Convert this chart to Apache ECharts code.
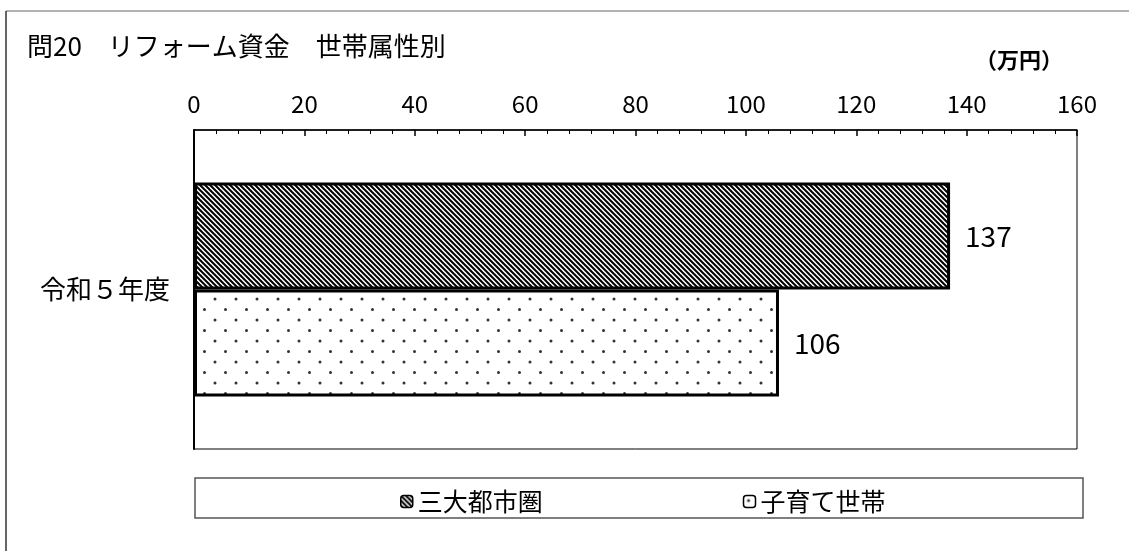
<!DOCTYPE html>
<html>
<head>
<meta charset="utf-8">
<script src="https://cdn.jsdelivr.net/npm/echarts@6/dist/echarts.min.js"></script>
<style>
  html, body { margin: 0; padding: 0; background: #fff; }
  #chart { width: 1129px; height: 551px; }
</style>
</head>
<body>
<div id="chart"></div>
<script>
var categories = ['令和５年度'];
var seriesNames = ['三大都市圏', '子育て世帯'];
var sandaiValues = [137];
var kosodateValues = [106];
var xTicks = [0, 20, 40, 60, 80, 100, 120, 140, 160];

var FONT = '"Noto Sans CJK JP", sans-serif';

// diagonal hatch pattern
function makeStripes() {
  var c = document.createElement('canvas');
  c.width = 10; c.height = 10;
  var ctx = c.getContext('2d');
  ctx.fillStyle = '#fff';
  ctx.fillRect(0, 0, 10, 10);
  ctx.strokeStyle = '#000';
  ctx.lineWidth = 2;
  for (var k = -20; k <= 20; k += 5) {
    ctx.beginPath();
    ctx.moveTo(k - 5, -5);
    ctx.lineTo(k + 15, 15);
    ctx.stroke();
  }
  return c;
}

// sparse dot pattern
function makeDots() {
  var c = document.createElement('canvas');
  c.width = 21; c.height = 21;
  var ctx = c.getContext('2d');
  ctx.fillStyle = '#fff';
  ctx.fillRect(0, 0, 21, 21);
  ctx.fillStyle = '#333';
  [[5, 5], [15.5, 15.5]].forEach(function (p) {
    ctx.beginPath();
    ctx.arc(p[0], p[1], 1.5, 0, Math.PI * 2);
    ctx.fill();
  });
  return c;
}

var chart = echarts.init(document.getElementById('chart'));

var option = {
  animation: false,
  backgroundColor: '#fff',
  textStyle: { fontFamily: FONT, color: '#000' },
  title: {
    text: '問20　リフォーム資金　世帯属性別',
    left: 22,
    top: 28,
    textStyle: { fontFamily: FONT, fontSize: 26, fontWeight: 'normal', color: '#000' }
  },
  graphic: [
    { type: 'line', shape: { x1: 6, y1: 11, x2: 1129, y2: 11 }, style: { stroke: '#999', lineWidth: 1.5 } },
    { type: 'line', shape: { x1: 6, y1: 11, x2: 6, y2: 551 }, style: { stroke: '#333', lineWidth: 1.5 } },
    { type: 'rect', shape: { x: 195, y: 478, width: 888, height: 40 }, style: { fill: 'none', stroke: '#555', lineWidth: 1.5 } },
    {
      type: 'text', left: 975, top: 49,
      style: { text: '（万円）', font: 'bold 22px ' + FONT, fill: '#000' }
    }
  ],
  legend: {
    data: seriesNames,
    left: 395,
    top: 484,
    itemWidth: 12,
    itemHeight: 12,
    itemGap: 200,
    textStyle: { fontFamily: FONT, fontSize: 25, color: '#000' },
    itemStyle: { borderWidth: 1.5, borderColor: '#000' }
  },
  grid: {
    left: 194, top: 130, right: 52, bottom: 102,
    show: true, borderColor: '#000', borderWidth: 1
  },
  xAxis: {
    type: 'value',
    position: 'top',
    min: xTicks[0],
    max: xTicks[xTicks.length - 1],
    interval: 20,
    axisLine: { show: true, lineStyle: { color: '#000', width: 1.5 } },
    axisTick: { show: true, inside: true, length: 6, lineStyle: { color: '#000', width: 1.5 } },
    minorTick: { show: true, splitNumber: 5, length: 4, lineStyle: { color: '#000', width: 1 } },
    splitLine: { show: false },
    axisLabel: { fontFamily: FONT, fontSize: 24, color: '#000', margin: 14 }
  },
  yAxis: {
    type: 'category',
    data: categories,
    inverse: true,
    axisLine: { show: true, lineStyle: { color: '#000', width: 2 } },
    axisTick: { show: false },
    axisLabel: { fontFamily: FONT, fontSize: 26, color: '#000', margin: 24 }
  },
  series: [
    {
      name: seriesNames[0],
      type: 'bar',
      data: sandaiValues,
      barWidth: 107,
      barGap: '0%',
      itemStyle: { color: { image: makeStripes(), repeat: 'repeat' }, borderColor: '#000', borderWidth: 3 },
      label: { show: true, position: 'right', distance: 15, fontFamily: FONT, fontSize: 28, color: '#000' }
    },
    {
      name: seriesNames[1],
      type: 'bar',
      data: kosodateValues,
      barWidth: 107,
      barGap: '0%',
      itemStyle: { color: { image: makeDots(), repeat: 'repeat' }, borderColor: '#000', borderWidth: 3 },
      label: { show: true, position: 'right', distance: 15, fontFamily: FONT, fontSize: 28, color: '#000' }
    }
  ]
};

chart.setOption(option);
</script>
</body>
</html>
